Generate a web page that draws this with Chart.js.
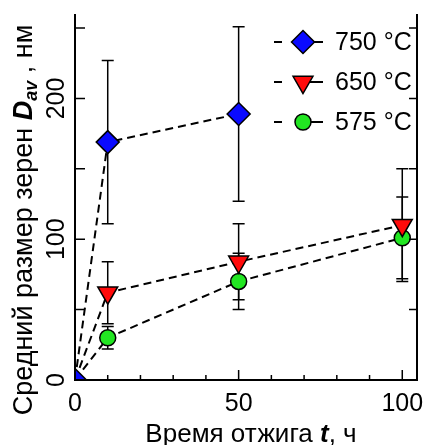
<!DOCTYPE html>
<html>
<head>
<meta charset="utf-8">
<script src="https://cdn.jsdelivr.net/npm/chart.js@4"></script>
<style>
  html, body { margin: 0; padding: 0; background: #fff; }
</style>
</head>
<body>
<canvas id="grafico" width="430" height="445"></canvas>
<script>
// datos
var tiempos = [0, 10, 50, 100];
var d750 = [0, 169, 189];
var d650 = [0, 62, 84, 110];
var d575 = [0, 30, 70, 101];
var err750 = [0, 58, 62];
var err650 = [0, 22, 27, 40];
var err575 = [0, 8, 20, 29];
var etiquetas = ['750 °C', '650 °C', '575 °C'];
var xTicks = [0, 50, 100];
var yTicks = [0, 100, 200];

var FUENTE = '"Liberation Sans", Arial, sans-serif';

function puntos(vals) {
    return vals.map(function (v, i) { return { x: tiempos[i], y: v }; });
}

function serie(label, vals, errs, color, estilo, radio, rot, radios) {
    return {
        label: label,
        data: puntos(vals),
        errores: errs,
        showLine: true,
        borderColor: '#000',
        borderWidth: 2,
        borderDash: [8, 5],
        pointStyle: estilo,
        pointRadius: radios || radio,
        pointHoverRadius: radios || radio,
        pointRotation: rot,
        pointBackgroundColor: color,
        pointBorderColor: '#000',
        pointBorderWidth: 1.5,
        radioLeyenda: radio
    };
}

// texto con partes de distinto estilo, centrado en x
function textoMixto(ctx, partes, x, y) {
    var total = 0;
    partes.forEach(function (p) { ctx.font = p.font; total += ctx.measureText(p.t).width; });
    var cx = x - total / 2;
    ctx.textAlign = 'left';
    ctx.textBaseline = 'alphabetic';
    partes.forEach(function (p) {
        ctx.font = p.font;
        ctx.fillText(p.t, cx, y + (p.dy || 0));
        cx += ctx.measureText(p.t).width;
    });
}

var barrasError = {
    id: 'barrasError',
    beforeDatasetsDraw: function (chart) {
        var ctx = chart.ctx, xs = chart.scales.x, ys = chart.scales.y;
        ctx.save();
        ctx.strokeStyle = '#000';
        ctx.lineWidth = 1.5;
        chart.data.datasets.forEach(function (ds) {
            ds.data.forEach(function (p, i) {
                var e = ds.errores[i];
                if (!e) return;
                var px = xs.getPixelForValue(p.x);
                var y1 = ys.getPixelForValue(p.y + e);
                var y2 = ys.getPixelForValue(p.y - e);
                ctx.beginPath();
                ctx.moveTo(px, y1); ctx.lineTo(px, y2);
                ctx.moveTo(px - 6, y1); ctx.lineTo(px + 6, y1);
                ctx.moveTo(px - 6, y2); ctx.lineTo(px + 6, y2);
                ctx.stroke();
            });
        });
        ctx.restore();
    }
};

var ejes = {
    id: 'ejes',
    afterDraw: function (chart) {
        var ctx = chart.ctx, a = chart.chartArea, xs = chart.scales.x, ys = chart.scales.y;
        ctx.save();
        ctx.strokeStyle = '#000';
        ctx.fillStyle = '#000';
        ctx.lineWidth = 2;
        ctx.beginPath();
        ctx.moveTo(a.left, a.top); ctx.lineTo(a.left, a.bottom);
        ctx.lineTo(a.right, a.bottom); ctx.lineTo(a.right, a.top);
        ctx.stroke();

        ctx.lineWidth = 1.5;
        ctx.beginPath();
        xs.ticks.forEach(function (t) {
            var px = xs.getPixelForValue(t.value);
            var largo = t.value % 50 === 0 ? 10 : 5;
            ctx.moveTo(px, a.bottom); ctx.lineTo(px, a.bottom - largo);
        });
        ys.ticks.forEach(function (t) {
            var py = ys.getPixelForValue(t.value);
            ctx.moveTo(a.left, py); ctx.lineTo(a.left + 10, py);
            ctx.moveTo(a.right, py); ctx.lineTo(a.right - 8, py);
        });
        ctx.stroke();

        // etiquetas del eje y, giradas
        ctx.font = '25px ' + FUENTE;
        yTicks.forEach(function (v) {
            ctx.save();
            ctx.translate(64, ys.getPixelForValue(v));
            ctx.rotate(-Math.PI / 2);
            ctx.textAlign = 'center';
            ctx.textBaseline = 'alphabetic';
            ctx.fillText(String(v), 0, 0);
            ctx.restore();
        });

        // titulo eje y
        ctx.save();
        ctx.translate(32, 220);
        ctx.rotate(-Math.PI / 2);
        textoMixto(ctx, [
            { t: 'Средний размер зерен ', font: '27px ' + FUENTE },
            { t: 'D', font: 'italic bold 27px ' + FUENTE },
            { t: 'av', font: 'italic bold 18px ' + FUENTE, dy: 5 },
            { t: ' , нм', font: '27px ' + FUENTE }
        ], 0, 0);
        ctx.restore();

        // titulo eje x
        textoMixto(ctx, [
            { t: 'Время отжига ', font: '26px ' + FUENTE },
            { t: 't', font: 'italic bold 26px ' + FUENTE },
            { t: ', ч', font: '26px ' + FUENTE }
        ], 251, 442);

        // leyenda
        var filas = [42, 82, 122];
        chart.data.datasets.forEach(function (ds, i) {
            var y = filas[i];
            ctx.lineWidth = 2;
            ctx.beginPath();
            ctx.moveTo(274, y); ctx.lineTo(282, y);
            ctx.moveTo(300, y); ctx.lineTo(323, y);
            ctx.stroke();
            ctx.fillStyle = ds.pointBackgroundColor;
            ctx.strokeStyle = '#000';
            ctx.lineWidth = ds.pointBorderWidth;
            Chart.helpers.drawPoint(ctx, {
                pointStyle: ds.pointStyle,
                radius: ds.radioLeyenda,
                rotation: ds.pointRotation,
                borderWidth: ds.pointBorderWidth
            }, 303, y);
            ctx.fillStyle = '#000';
            ctx.font = '25px ' + FUENTE;
            ctx.textAlign = 'left';
            ctx.textBaseline = 'middle';
            ctx.fillText(ds.label, 335, y + 1);
        });
        ctx.restore();
    }
};

var ctx = document.getElementById('grafico');
var grafico = new Chart(ctx, {
    type: 'scatter',
    data: {
        datasets: [
            serie(etiquetas[0], d750, err750, '#0a0aff', 'rectRot', 11.5, 0),
            serie(etiquetas[1], d650, err650, '#ff0a0a', 'triangle', 11.5, 180, [0, 11.5, 11.5, 11.5]),
            serie(etiquetas[2], d575, err575, '#22e622', 'circle', 8, 0, [0, 8, 8, 8])
        ]
    },
    options: {
        responsive: false,
        animation: false,
        devicePixelRatio: 1,
        layout: { padding: { top: 14, right: 7, left: 0, bottom: 0 } },
        plugins: {
            legend: { display: false },
            tooltip: { enabled: false }
        },
        scales: {
            x: {
                type: 'linear',
                min: 0,
                max: 104.5,
                grid: { display: false },
                border: { display: false },
                ticks: {
                    stepSize: 10,
                    includeBounds: false,
                    autoSkip: false,
                    maxRotation: 0,
                    padding: 1,
                    color: '#000',
                    font: { family: FUENTE, size: 25 },
                    callback: function (v) { return xTicks.indexOf(v) >= 0 ? String(v) : ''; }
                },
                afterFit: function (s) { s.height = 65; s.paddingLeft = 0; s.paddingRight = 0; }
            },
            y: {
                min: 0,
                max: 260,
                grid: { display: false },
                border: { display: false },
                ticks: { stepSize: 50, includeBounds: false, display: false },
                afterFit: function (s) { s.width = 75; }
            }
        }
    },
    plugins: [barrasError, ejes]
});
</script>
</body>
</html>
